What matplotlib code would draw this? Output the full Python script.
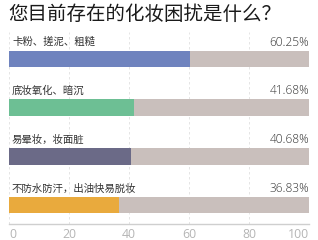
import matplotlib.pyplot as plt

plt.rcParams['font.family'] = ['Noto Sans CJK SC', 'DejaVu Sans']

title = '您目前存在的化妆困扰是什么？'
labels = ['卡粉、搓泥、粗糙', '底妆氧化、暗沉', '易晕妆，妆面脏', '不防水防汗，出油快易脱妆']
values = [60.25, 41.68, 40.68, 36.83]
colors = ['#6f83be', '#6dbf94', '#6b6a87', '#e9aa3d']
ticks = [0, 20, 40, 60, 80, 100]

fig = plt.figure(figsize=(3.18, 2.4), dpi=100)
ax = fig.add_axes([9 / 318, 16 / 240, 300 / 318, 192 / 240])

ypos = list(range(len(values)))
# grey track behind each bar
ax.barh(ypos, [100] * len(values), height=0.34, color='#c9bfbc', zorder=2)
ax.barh(ypos, values, height=0.34, color=colors, zorder=3)

for y, lab, v in zip(ypos, labels, values):
    ax.text(1, y - 0.34, lab, ha='left', va='center', fontsize=7.5, color='#333333')
    ax.text(100, y - 0.34, f'{v:.2f}%', ha='right', va='center', fontsize=8.6,
            color='#333333', family=['Open Sans', 'DejaVu Sans'], fontweight='light')

ax.set_xlim(0, 100)
ax.set_ylim(3.39, -0.55)
ax.set_xticks(ticks)
ax.set_xticklabels([str(t) for t in ticks], family=['Open Sans', 'DejaVu Sans'])
tl = ax.get_xticklabels()
tl[0].set_ha('left')
tl[-1].set_ha('right')
ax.set_yticks([])
ax.tick_params(axis='x', length=0, pad=3, labelsize=8.8, labelcolor='#b5b5b5')
ax.grid(axis='x', color='#e0e0e0', linestyle=(0, (3, 3)), linewidth=0.6, zorder=1)
for s in ['top', 'right', 'left']:
    ax.spines[s].set_visible(False)
ax.spines['bottom'].set_color('#cfcfcf')
ax.spines['bottom'].set_linewidth(1.0)

fig.text(8 / 318, 1 - 14 / 240, title, ha='left', va='center', fontsize=14, color='#1a1a1a')

fig.savefig('out.png', dpi=100)
